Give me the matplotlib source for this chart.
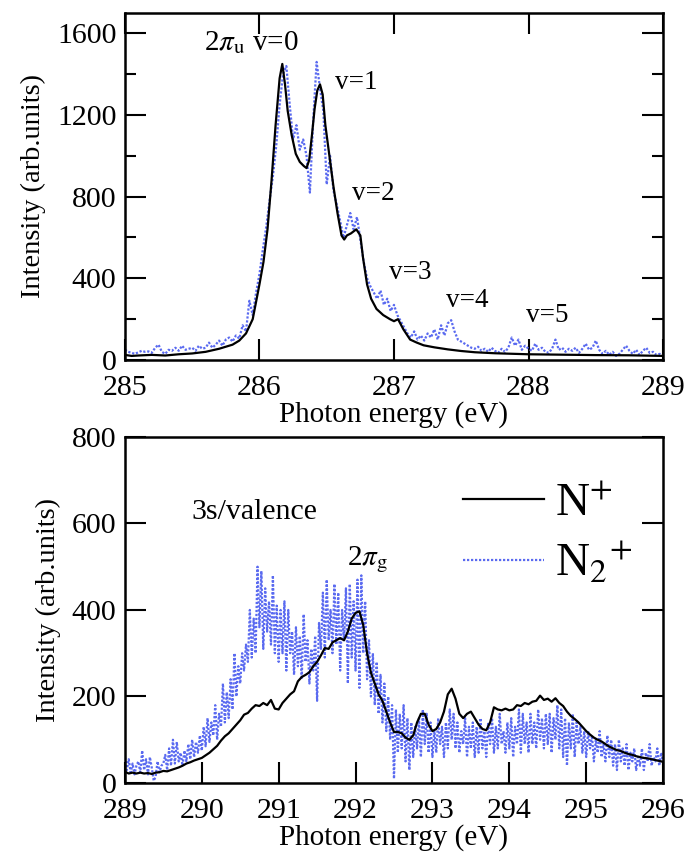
import numpy as np
import matplotlib
matplotlib.use("Agg")
import matplotlib.pyplot as plt
from matplotlib.ticker import MultipleLocator

plt.rcParams['font.family'] = ['Liberation Serif', 'DejaVu Serif']
plt.rcParams['mathtext.fontset'] = 'stix'

# ---- top panel: 2pi_u region ----
e_top_n = [285.0, 285.05, 285.1, 285.2, 285.3, 285.4, 285.5, 285.6, 285.7, 285.8,
           285.85, 285.9, 285.95, 286.0, 286.03, 286.06, 286.09, 286.12, 286.15, 286.17,
           286.19, 286.21, 286.24, 286.27, 286.3, 286.33, 286.35, 286.37, 286.39, 286.41,
           286.43, 286.45, 286.47, 286.49, 286.52, 286.55, 286.58, 286.61, 286.63, 286.65,
           286.68, 286.72, 286.75, 286.77, 286.8, 286.83, 286.87, 286.92, 286.97, 287.0,
           287.03, 287.07, 287.12, 287.17, 287.22, 287.3, 287.4, 287.5, 287.6, 287.75,
           288.0, 288.25, 288.5, 288.75, 289.0]
i_top_n = [25, 20, 22, 25, 22, 28, 32, 40, 55, 75,
           95, 130, 200, 370, 480, 640, 880, 1150, 1380, 1450,
           1350, 1220, 1100, 1010, 970, 950, 940, 980, 1100, 1230,
           1320, 1350, 1300, 1150, 1000, 850, 720, 610, 590, 610,
           620, 640, 610, 500, 370, 300, 250, 220, 200, 190,
           200, 150, 100, 85, 72, 62, 52, 44, 38, 33,
           28, 26, 24, 23, 20]

i_top_n2 = [50, 40, 35, 30, 38, 45, 40, 42, 35, 60,
            75, 40, 30, 50, 45, 60, 45, 70, 50, 55,
            60, 45, 70, 55, 60, 85, 60, 75, 95, 70,
            100, 110, 90, 120, 105, 170, 140, 290, 220, 330,
            420, 540, 650, 780, 900, 1050, 1250, 1400, 1440, 1250,
            1080, 1150, 1030, 1080, 1000, 820, 1180, 1460, 1330, 1220,
            860, 1000, 830, 760, 680, 600, 660, 720, 640, 700,
            590, 480, 400, 360, 330, 300, 340, 270, 300, 240,
            270, 220, 190, 160, 130, 110, 140, 100, 120, 95,
            130, 110, 150, 100, 170, 120, 180, 195, 140, 100,
            90, 80, 70, 60, 55, 65, 45, 55, 40, 60,
            45, 35, 55, 40, 60, 110, 70, 100, 50, 70,
            55, 45, 80, 50, 60, 40, 35, 55, 100, 50,
            60, 40, 55, 45, 60, 35, 55, 80, 50, 60,
            95, 50, 30, 45, 25, 40, 20, 30, 50, 70,
            45, 30, 50, 25, 45, 60, 35, 40, 25, 30,
            20]
e_top_n2 = np.linspace(285.0, 289.0, len(i_top_n2))

# ---- bottom panel: 3s/valence and 2pi_g region ----
i_bot_n = [26, 22, 24, 22, 24, 22, 23, 21, 24, 25,
           28, 27, 30, 33, 36, 40, 45, 48, 52, 55,
           58, 64, 70, 78, 86, 98, 108, 115, 125, 135,
           145, 158, 162, 172, 180, 178, 185, 180, 192, 172,
           170, 185, 195, 205, 212, 235, 245, 250, 256, 270,
           280, 295, 312, 310, 325, 330, 335, 330, 350, 380,
           393, 397, 365, 300, 255, 230, 205, 190, 165, 140,
           118, 118, 115, 105, 100, 110, 140, 160, 160, 135,
           120, 125, 140, 165, 205, 218, 195, 160, 150, 160,
           165, 150, 135, 125, 122, 140, 175, 170, 168, 172,
           168, 170, 180, 178, 185, 182, 188, 190, 202, 192,
           195, 188, 196, 185, 178, 165, 155, 148, 140, 130,
           120, 112, 105, 100, 96, 90, 84, 80, 76, 74,
           70, 67, 65, 62, 60, 58, 57, 55, 53, 51,
           49]
e_bot_n = np.linspace(289.0, 296.0, len(i_bot_n))

i_bot_n2 = [60, 30, 55, 25, 45, 20, 40, 50, 25, 75,
            30, 55, 20, 60, 35, 5, 15, 50, 25, 40,
            45, 65, 30, 80, 40, 100, 45, 95, 50, 70,
            40, 75, 50, 90, 55, 100, 60, 95, 70, 110,
            75, 130, 85, 150, 95, 140, 110, 180, 100, 160,
            130, 230, 140, 210, 150, 240, 170, 300, 200, 270,
            230, 300, 260, 320, 280, 400, 290, 380, 300, 500,
            360, 490, 310, 450, 350, 420, 320, 480, 300, 410,
            280, 400, 300, 420, 260, 400, 300, 350, 250, 360,
            270, 340, 240, 390, 280, 330, 230, 310, 260, 340,
            190, 370, 310, 440, 290, 470, 330, 400, 300, 460,
            320, 440, 260, 400, 330, 450, 230, 460, 290, 420,
            260, 470, 220, 480, 300, 420, 240, 330, 200, 300,
            180, 280, 160, 250, 140, 230, 120, 200, 100, 180,
            10, 170, 70, 160, 80, 180, 50, 150, 30, 140,
            60, 130, 80, 150, 60, 170, 90, 160, 70, 140,
            60, 120, 70, 150, 90, 130, 60, 140, 80, 170,
            100, 160, 80, 140, 70, 120, 90, 150, 60, 130,
            80, 140, 60, 130, 70, 150, 80, 120, 60, 140,
            90, 150, 70, 130, 80, 160, 90, 120, 70, 140,
            80, 150, 60, 130, 90, 170, 70, 160, 90, 140,
            70, 160, 90, 140, 80, 170, 100, 150, 80, 160,
            90, 160, 70, 150, 100, 180, 80, 170, 60, 150,
            40, 140, 80, 160, 60, 140, 90, 130, 70, 120,
            60, 120, 80, 110, 50, 100, 70, 120, 60, 90,
            50, 110, 60, 100, 40, 90, 30, 100, 50, 80,
            40, 90, 30, 70, 50, 80, 30, 60, 40, 80,
            30, 70, 50, 90, 40, 60, 50, 80, 40, 70,
            50]
e_bot_n2 = np.linspace(289.0, 296.0, len(i_bot_n2))

blue = '#5a6af0'
dots = (0, (1.0, 0.8))

fig = plt.figure(figsize=(6.9, 8.6), dpi=100)
ax1 = fig.add_axes([0.181, 0.5814, 0.780, 0.4036])
ax2 = fig.add_axes([0.181, 0.0895, 0.780, 0.4025])

ax1.plot(e_top_n2, i_top_n2, color=blue, lw=1.6, ls=dots)
ax1.plot(e_top_n, i_top_n, color='black', lw=1.6)
ax2.plot(e_bot_n2, i_bot_n2, color=blue, lw=1.6, ls=dots, label=r'N$_2$$^{+}$')
ax2.plot(e_bot_n, i_bot_n, color='black', lw=1.6, label=r'N$^{+}$')

ax1.set_xlim(285, 289)
ax1.set_ylim(0, 1700)
ax1.yaxis.set_major_locator(MultipleLocator(400))
ax1.yaxis.set_minor_locator(MultipleLocator(200))
ax1.xaxis.set_major_locator(MultipleLocator(1))

ax2.set_xlim(289, 296)
ax2.set_ylim(0, 800)
ax2.yaxis.set_major_locator(MultipleLocator(200))
ax2.xaxis.set_major_locator(MultipleLocator(1))

for ax in (ax1, ax2):
    ax.set_xlabel('Photon energy (eV)', fontsize=21, labelpad=0)
    ax.set_ylabel('Intensity (arb.units)', fontsize=20.5, labelpad=8)
    ax.tick_params(which='major', direction='in', length=15, width=1.5, labelsize=21.5)
    ax.tick_params(axis='x', pad=11)
    ax.tick_params(axis='y', pad=6)
    ax.tick_params(which='minor', direction='in', length=8, width=1.5)
    for s in ax.spines.values():
        s.set_linewidth(1.8)
ax1.tick_params(which='both', top=True, right=True)
ax2.tick_params(which='both', top=False, right=True)

ax1.text(285.59, 1556, r'2$\pi_{\mathrm{u}}$ v=0', fontsize=21, va='center')
ax1.text(286.56, 1360, 'v=1', fontsize=19.5, va='center')
ax1.text(286.69, 815, 'v=2', fontsize=19.5, va='center')
ax1.text(286.96, 430, 'v=3', fontsize=19.5, va='center')
ax1.text(287.39, 293, 'v=4', fontsize=19.5, va='center')
ax1.text(287.98, 220, 'v=5', fontsize=19.5, va='center')

ax2.text(289.87, 627, '3s/valence', fontsize=21.5, va='center')
ax2.text(291.89, 516, r'2$\pi_{\mathrm{g}}$', fontsize=21, va='center')

h, l = ax2.get_legend_handles_labels()
ax2.legend(h[::-1], l[::-1], loc='upper left', bbox_to_anchor=(0.55, 0.99),
           frameon=False, fontsize=34, handlelength=1.7, labelspacing=0.3,
           handletextpad=0.25)

fig.savefig('out.png', dpi=100)
